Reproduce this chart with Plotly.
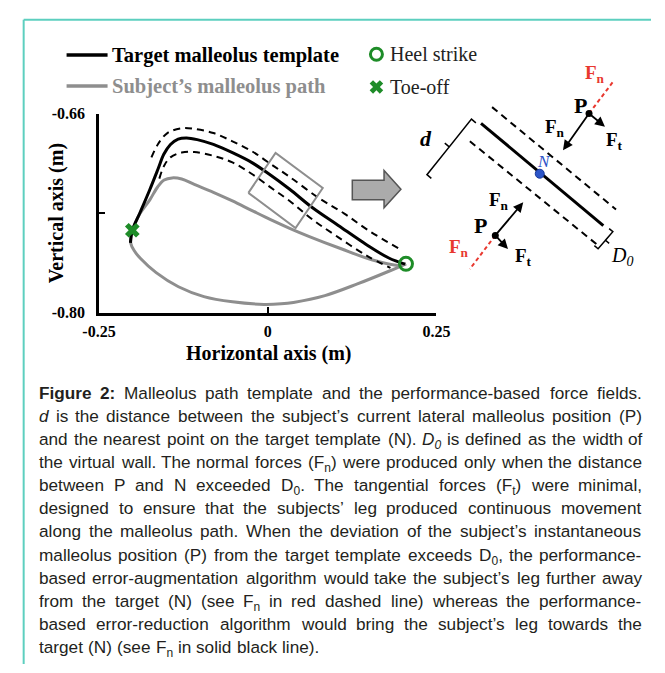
import re
import plotly.graph_objects as go

W, H = 665, 673
SERIF = "Liberation Serif"
SANS = "Liberation Sans"
GREEN = "#1e8c28"
GRAY = "#8e8e8e"
RED = "#e8382f"
BLUE = "#2c55c8"

# ---------------- data (metres) ----------------
template_x = [-0.2034, -0.2006, -0.1893, -0.1751, -0.1624, -0.1540, -0.1441, -0.1328, -0.1201, -0.1045,
              -0.0805, -0.0523, -0.0240, 0.0014, 0.0325, 0.0664, 0.1045, 0.1469, 0.1794, 0.2034]
template_y = [-0.7509, -0.7420, -0.7297, -0.7139, -0.6988, -0.6886, -0.6817, -0.6779, -0.6771, -0.6783,
              -0.6817, -0.6875, -0.6943, -0.7023, -0.7132, -0.7262, -0.7386, -0.7523, -0.7615, -0.7658]
wall_upper_x = [-0.1723, -0.1629, -0.1487, -0.1275, -0.1088, -0.0805, -0.0523, -0.0240, 0.0042, 0.0325,
                0.0758, 0.1134, 0.1511, 0.1959]
wall_upper_y = [-0.6908, -0.6817, -0.6737, -0.6703, -0.6708, -0.6737, -0.6795, -0.6863, -0.6954, -0.7045,
                -0.7194, -0.7303, -0.7427, -0.7552]
wall_lower_x = [-0.1606, -0.1535, -0.1441, -0.1275, -0.1088, -0.0805, -0.0523, -0.0240, 0.0042, 0.0325,
                0.0664, 0.1041, 0.1465, 0.1818]
wall_lower_y = [-0.7057, -0.6966, -0.6908, -0.6874, -0.6870, -0.6897, -0.6943, -0.7023, -0.7119, -0.7214,
                -0.7345, -0.7468, -0.7598, -0.7684]
subject_swing_x = [-0.2006, -0.1893, -0.1747, -0.1629, -0.1535, -0.1417, -0.1275, -0.1088, -0.0805, -0.0523,
                   -0.0240, 0.0042, 0.0325, 0.0617, 0.1088, 0.1554, 0.1935, 0.2048]
subject_swing_y = [-0.7420, -0.7303, -0.7206, -0.7114, -0.7067, -0.7052, -0.7060, -0.7098, -0.7153, -0.7214,
                   -0.7280, -0.7345, -0.7406, -0.7464, -0.7550, -0.7629, -0.7667, -0.7656]
subject_stance_x = [0.2048, 0.1794, 0.1328, 0.0847, 0.0381, 0.0198, -0.0056, -0.0523, -0.0946, -0.1323,
                    -0.1653, -0.1888, -0.1977, -0.2030, -0.2006]
subject_stance_y = [-0.7656, -0.7708, -0.7797, -0.7879, -0.7927, -0.7937, -0.7941, -0.7923, -0.7886, -0.7817,
                    -0.7718, -0.7617, -0.7564, -0.7509, -0.7420]
zoom_box_x = [-0.0287, 0.0116, 0.0815, 0.0412, -0.0287]
zoom_box_y = [-0.7157, -0.6876, -0.7123, -0.7404, -0.7157]
heel_strike = (0.2048, -0.7656)
toe_off = (-0.2006, -0.7420)

x_tickvals = [-0.25, 0, 0.25]
x_ticktext = ["-0.25", "0", "0.25"]
y_tickvals = [-0.80, -0.73, -0.66]
y_ticktext = ["-0.80", "", "-0.66"]

caption_lines = [
    ["<b>Figure</b>", "<b>2:</b>", "Malleolus", "path", "template", "and", "the", "performance-based", "force", "fields."],
    ["<i>d</i>", "is", "the", "distance", "between", "the", "subject’s", "current", "lateral", "malleolus", "position", "(P)"],
    ["and", "the", "nearest", "point", "on", "the", "target", "template", "(N).", "<i>D<sub>0</sub></i>", "is", "defined", "as", "the", "width", "of"],
    ["the", "virtual", "wall.", "The", "normal", "forces", "(F<sub>n</sub>)", "were", "produced", "only", "when", "the", "distance"],
    ["between", "P", "and", "N", "exceeded", "D<sub>0</sub>.", "The", "tangential", "forces", "(F<sub>t</sub>)", "were", "minimal,"],
    ["designed", "to", "ensure", "that", "the", "subjects’", "leg", "produced", "continuous", "movement"],
    ["along", "the", "malleolus", "path.", "When", "the", "deviation", "of", "the", "subject’s", "instantaneous"],
    ["malleolus", "position", "(P)", "from", "the", "target", "template", "exceeds", "D<sub>0</sub>,", "the", "performance-"],
    ["based", "error-augmentation", "algorithm", "would", "take", "the", "subject’s", "leg", "further", "away"],
    ["from", "the", "target", "(N)", "(see", "F<sub>n</sub>", "in", "red", "dashed", "line)", "whereas", "the", "performance-"],
    ["based", "error-reduction", "algorithm", "would", "bring", "the", "subject’s", "leg", "towards", "the"],
    ["target", "(N)", "(see", "F<sub>n</sub>", "in", "solid", "black", "line)."],
]

# ---------------- Arial/Liberation Sans advance widths (1/1000 em) ----------------
REG = {' ': 278, '(': 333, ')': 333, ',': 278, '-': 333, '.': 278, ':': 278, '’': 222}
for c in '0123456789':
    REG[c] = 556
REG.update(dict(zip('ABCDEFGHIJKLMNOPQRSTUVWXYZ',
                    [667, 667, 722, 722, 667, 611, 778, 722, 278, 500, 667, 556, 833, 722, 778, 667, 778, 722, 667, 611, 722, 667, 944, 667, 667, 611])))
REG.update(dict(zip('abcdefghijklmnopqrstuvwxyz',
                    [556, 556, 500, 556, 556, 278, 556, 556, 222, 222, 500, 222, 833, 556, 556, 556, 556, 333, 500, 278, 556, 500, 722, 500, 500, 500])))
BOLD = dict(REG)
BOLD.update({'F': 611, 'i': 278, 'g': 611, 'u': 611, 'r': 389, 'e': 556, '2': 556, ':': 333})
RENDER_FACTOR = 1.06


def text_width(s, fs):
    total = 0.0
    bold = sub = False
    for tok in re.split(r'(<[^>]+>)', s):
        if tok.startswith('<'):
            closing = tok.startswith('</')
            tag = tok.strip('<>/').lower()
            if tag == 'b':
                bold = not closing
            elif tag == 'sub':
                sub = not closing
            continue
        for ch in tok:
            tab = BOLD if bold else REG
            total += tab.get(ch, 556) * (0.7 if sub else 1.0)
    return total * fs / 1000.0 * RENDER_FACTOR


fig = go.Figure()

# ---------------- main plot traces ----------------
fig.add_trace(go.Scatter(x=subject_swing_x, y=subject_swing_y, mode="lines", line=dict(color=GRAY, width=3, shape="spline"), hoverinfo="skip"))
fig.add_trace(go.Scatter(x=subject_stance_x, y=subject_stance_y, mode="lines", line=dict(color=GRAY, width=3, shape="spline"), hoverinfo="skip"))
fig.add_trace(go.Scatter(x=wall_upper_x, y=wall_upper_y, mode="lines", line=dict(color="black", width=2, dash="7px,5px", shape="spline"), hoverinfo="skip"))
fig.add_trace(go.Scatter(x=wall_lower_x, y=wall_lower_y, mode="lines", line=dict(color="black", width=2, dash="7px,5px", shape="spline"), hoverinfo="skip"))
fig.add_trace(go.Scatter(x=template_x, y=template_y, mode="lines", line=dict(color="black", width=3, shape="spline"), hoverinfo="skip"))
fig.add_trace(go.Scatter(x=zoom_box_x, y=zoom_box_y, mode="lines", line=dict(color=GRAY, width=2), hoverinfo="skip"))
fig.add_trace(go.Scatter(x=[toe_off[0]], y=[toe_off[1]], mode="markers",
                         marker=dict(symbol="x", size=13, color=GREEN, line=dict(width=0)), hoverinfo="skip"))
fig.add_trace(go.Scatter(x=[heel_strike[0]], y=[heel_strike[1]], mode="markers",
                         marker=dict(symbol="circle-open", size=13, color=GREEN, line=dict(width=3, color=GREEN)), hoverinfo="skip"))

# ---------------- schematic (pixel space on x2/y2) ----------------
def px_line(xs, ys, color="black", width=2, dash=None):
    fig.add_trace(go.Scatter(x=xs, y=ys, xaxis="x2", yaxis="y2", mode="lines",
                             line=dict(color=color, width=width, dash=dash), hoverinfo="skip"))

# legend samples
px_line([52, 95], [48.3, 48.3], "black", 3.5)
px_line([52, 95], [80, 80], GRAY, 3.5)
fig.add_trace(go.Scatter(x=[377], y=[47.5], xaxis="x2", yaxis="y2", mode="markers",
                         marker=dict(symbol="circle-open", size=12, color=GREEN, line=dict(width=3, color=GREEN)), hoverinfo="skip"))
fig.add_trace(go.Scatter(x=[377], y=[81], xaxis="x2", yaxis="y2", mode="markers",
                         marker=dict(symbol="x", size=12, color=GREEN, line=dict(width=0)), hoverinfo="skip"))

# zoomed wall
px_line([486.7, 615], [118.3, 223.3], "black", 3)
px_line([498.3, 628.3], [101.7, 206.7], "black", 2, "7px,5px")
px_line([475, 610], [136.7, 244], "black", 2, "7px,5px")
# d bracket
px_line([481.3, 476.7, 453.35, 448.7, 453.35, 430, 434.6], [117.8, 114, 142.5, 138.7, 142.5, 171, 174.8], "black", 1.5)
# D0 bracket
px_line([605.6, 609.5, 617.25, 621.1, 617.25, 625, 621.1], [243.8, 247, 238.25, 241.4, 238.25, 229.5, 226.3], "black", 1.5)
# red dashed forces
px_line([600, 626.5], [108.3, 74.0], RED, 2, "4px,3px")
px_line([501.7, 475.0], [233.3, 267.8], RED, 2, "4px,3px")
# points
fig.add_trace(go.Scatter(x=[600, 501.7], y=[108.3, 233.3], xaxis="x2", yaxis="y2", mode="markers",
                         marker=dict(size=7, color="black"), hoverinfo="skip"))
fig.add_trace(go.Scatter(x=[548.3], y=[170], xaxis="x2", yaxis="y2", mode="markers",
                         marker=dict(size=9, color=BLUE, line=dict(width=1, color="#1a3a9a")), hoverinfo="skip"))

annotations = []


def arrow(x0, y0, x1, y1, color="black", width=1.8):
    annotations.append(dict(x=x1, y=y1, ax=x0, ay=y0, xref="x2", yref="y2", axref="x2", ayref="y2",
                            text="", showarrow=True, arrowhead=2, arrowsize=1.1, arrowwidth=width,
                            arrowcolor=color, standoff=0, startstandoff=0))


arrow(600, 108.3, 572.7, 146)
arrow(600, 108.3, 616.7, 121.7)
arrow(501.7, 233.3, 531, 199.3)
arrow(501.7, 233.3, 515, 247.3)
arrow(625.5, 75.3, 628.3, 71.7, RED, 2)
arrow(476.0, 266.5, 473.3, 270, RED, 2)


def txt(x, y, s, size, color="black", family=SERIF, weight="normal", style="normal",
        xanchor="center", yanchor="middle", angle=0):
    annotations.append(dict(x=x, y=y, xref="x2", yref="y2", text=s, showarrow=False,
                            xanchor=xanchor, yanchor=yanchor, textangle=angle, borderpad=0,
                            font=dict(family=family, size=size, color=color, weight=weight, style=style)))


# legend labels
txt(99, 48.5, "Target malleolus template", 20.5, "black", weight="bold", xanchor="left")
txt(99, 80.5, "Subject’s malleolus path", 20.5, GRAY, weight="bold", xanchor="left")
txt(390, 47.5, "Heel strike", 20, "#222222", xanchor="left")
txt(390, 81.5, "Toe-off", 20, "#222222", xanchor="left")

# axis titles
txt(264, 354, "Horizontal axis (m)", 20, weight="bold")
txt(41.5, 211, "Vertical axis (m)", 20, weight="bold", angle=-90)

# schematic labels
txt(429, 134, "d", 22, weight="bold", style="italic")
txt(553, 157.5, "N", 17, BLUE, style="italic")
txt(635, 255, "D<sub>0</sub>", 20, style="italic")
txt(591.5, 100.5, "P", 22, weight="bold")
txt(486.5, 223.5, "P", 22, weight="bold")
txt(606, 68, "F<sub>n</sub>", 19, RED, weight="bold")
txt(564, 123, "F<sub>n</sub>", 19, weight="bold")
txt(627, 136, "F<sub>t</sub>", 19, weight="bold")
txt(506, 198.5, "F<sub>n</sub>", 19, weight="bold")
txt(531, 255.5, "F<sub>t</sub>", 19, weight="bold")
txt(464, 246.5, "F<sub>n</sub>", 19, RED, weight="bold")

# caption (justified word by word)
FS = 17.2
LEFT, RIGHT = 22, 655
Y0, DY = 395, 23.7
for i, words in enumerate(caption_lines):
    widths = [text_width(w, FS) for w in words]
    if i < len(caption_lines) - 1 and len(words) > 1:
        gap = (RIGHT - LEFT - sum(widths)) / (len(words) - 1)
    else:
        gap = REG[' '] * FS / 1000.0 * RENDER_FACTOR
    x = LEFT
    yc = Y0 + i * DY
    for w, wd in zip(words, widths):
        annotations.append(dict(x=x, y=yc - 11.5, xref="x2", yref="y2", text=w, showarrow=False,
                                xanchor="left", yanchor="top", borderpad=0,
                                font=dict(family=SANS, size=FS, color="#231f20")))
        x += wd + gap

shapes = [
    dict(type="line", xref="x2", yref="y2", x0=7, y0=12, x1=665, y1=12, line=dict(color="#5dcfbf", width=2)),
    dict(type="line", xref="x2", yref="y2", x0=7, y0=12, x1=7, y1=673, line=dict(color="#5dcfbf", width=2)),
    dict(type="path", xref="x2", yref="y2",
         path="M 351.7,176.7 L 385,176.7 L 385,166.7 L 402.7,186 L 385,205 L 385,196.7 L 351.7,196.7 Z",
         fillcolor="#ababab", line=dict(color="#555555", width=1.5)),
]

axis_common = dict(showline=True, linecolor="black", linewidth=2.5, ticks="inside", ticklen=6, tickwidth=2,
                   tickcolor="black", showgrid=False, zeroline=False,
                   tickfont=dict(family=SERIF, size=16, color="black", weight="bold"))

fig.update_layout(
    width=W, height=H, margin=dict(l=0, r=0, t=0, b=0),
    paper_bgcolor="white", plot_bgcolor="rgba(0,0,0,0)", showlegend=False,
    xaxis=dict(domain=[86 / W, 440 / W], range=[-0.25, 0.25], tickvals=x_tickvals, ticktext=x_ticktext,
               anchor="y", ticklabelstandoff=2, **axis_common),
    yaxis=dict(domain=[1 - 312.7 / H, 1 - 108.3 / H], range=[-0.80, -0.66], tickvals=y_tickvals,
               ticktext=y_ticktext, anchor="x", ticklabelstandoff=8, **axis_common),
    xaxis2=dict(domain=[0, 1], range=[0, W], visible=False, anchor="y2", fixedrange=True),
    yaxis2=dict(domain=[0, 1], range=[H, 0], visible=False, anchor="x2", fixedrange=True),
    annotations=annotations,
    shapes=shapes,
)

fig.write_html("out.html")
